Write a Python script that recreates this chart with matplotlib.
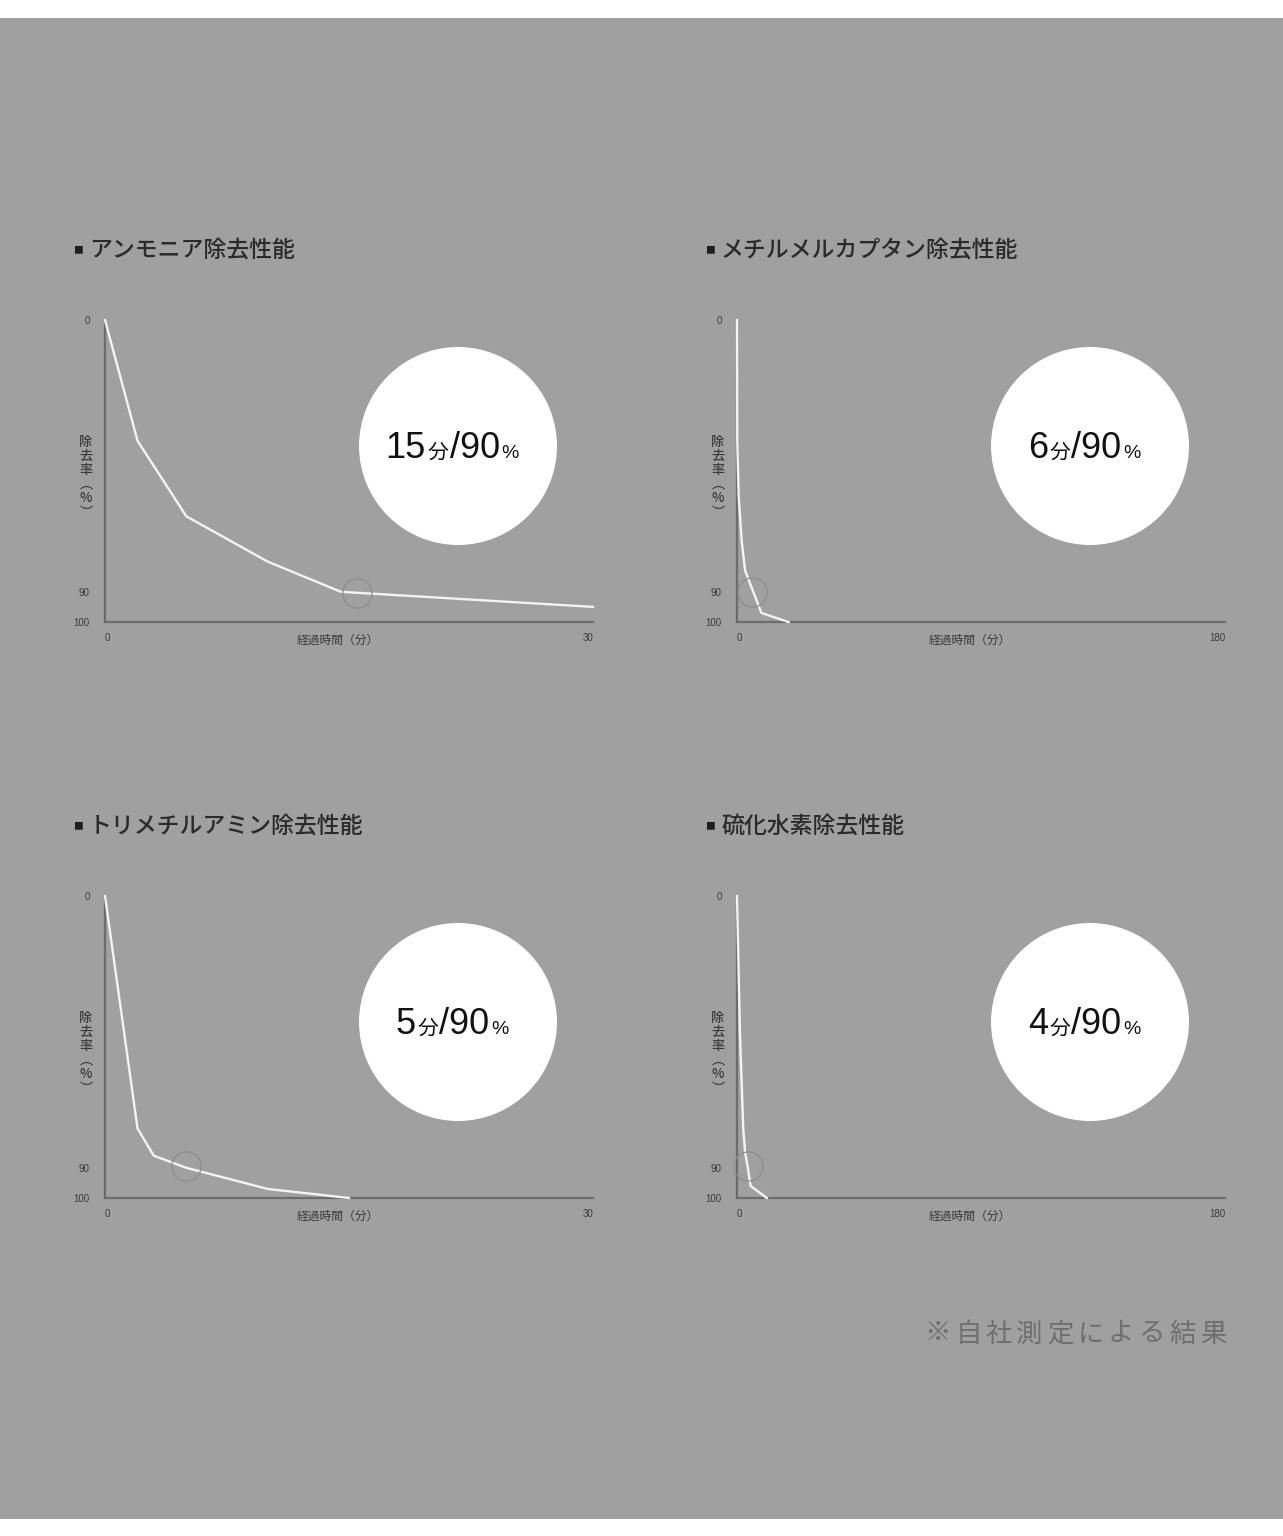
import matplotlib
matplotlib.use("Agg")
import matplotlib.pyplot as plt
from matplotlib.patches import Rectangle, Ellipse
from matplotlib.offsetbox import TextArea, HPacker, AnnotationBbox

plt.rcParams['font.family'] = ['Noto Sans CJK JP', 'DejaVu Sans']

W, H = 1283, 1536
BG = "#a0a0a0"
JP = ['Noto Sans CJK JP', 'DejaVu Sans']
LAT = ['Liberation Sans', 'DejaVu Sans']

# chart data: elapsed minutes vs removal rate (%)
titles = ["アンモニア除去性能", "メチルメルカプタン除去性能", "トリメチルアミン除去性能", "硫化水素除去性能"]
x_max = [30, 180, 30, 180]
ammonia_t = [0, 2, 5, 10, 14.5, 30]
ammonia_r = [0, 40, 65, 80, 90, 95]
methyl_t = [0, 0.1, 0.6, 1.7, 3, 6, 9, 19]
methyl_r = [0, 40, 58, 73, 83, 90, 97, 100]
tma_t = [0, 2, 3, 5, 10, 15]
tma_r = [0, 77, 86, 90, 97, 100]
h2s_t = [0, 1.1, 2.3, 3, 4, 5, 11]
h2s_r = [0, 46, 77, 85, 90, 96, 100]
series_t = [ammonia_t, methyl_t, tma_t, h2s_t]
series_r = [ammonia_r, methyl_r, tma_r, h2s_r]
mark_t = [15.5, 5.6, 5, 4]      # where the 90% ring sits
mark_r = [90.5, 90, 89.5, 89.5]
badge_min = ["15", "6", "5", "4"]
badge_pct = "90"
y_ticks = [0, 90, 100]


def fx(px):
    return px / W


def fy(py):
    return 1 - py / H


fig = plt.figure(figsize=(W / 100, H / 100), dpi=100, facecolor="white")
fig.patches.append(Rectangle((0, fy(1519)), 1, fy(18) - fy(1519), transform=fig.transFigure,
                             facecolor=BG, edgecolor="none", zorder=-2))

# pixel anchors of the four panels (axes left, axes top)
panel_left = [105, 737, 105, 737]
panel_top = [320, 320, 896, 896]
title_y = [248, 248, 824, 824]

for i in range(4):
    left, top = panel_left[i], panel_top[i]
    ax = fig.add_axes([fx(left), fy(top + 302), 488 / W, 302 / H])
    ax.set_facecolor("none")
    ax.plot(series_t[i], series_r[i], color="#f4f4f4", lw=1.7, clip_on=False, zorder=3)
    ax.plot([mark_t[i]], [mark_r[i]], marker="o", ms=21, mfc="none", mec="#8c8c8c", mew=0.9,
            clip_on=False, zorder=4)
    ax.set_xlim(0, x_max[i])
    ax.set_ylim(100, 0)
    for s in ["top", "right"]:
        ax.spines[s].set_visible(False)
    for s in ["left", "bottom"]:
        ax.spines[s].set_color("#6c6c6c")
        ax.spines[s].set_linewidth(1.6)
    ax.set_yticks(y_ticks)
    ax.set_yticklabels([str(v) for v in y_ticks], family=LAT, fontsize=7, color="#3a3a3a")
    ax.set_xticks([0, x_max[i]])
    xl = ax.set_xticklabels(["0", str(x_max[i])], family=LAT, fontsize=7, color="#3a3a3a")
    xl[0].set_ha("left")
    xl[1].set_ha("right")
    ax.tick_params(length=0, pad=8)
    ax.tick_params(axis="y", pad=11)
    ax.set_xlabel("経過時間（分）", fontsize=8.5, color="#3a3a3a")
    ax.xaxis.set_label_coords(0.477, -0.04)
    ax.text(-19 / 488, 0.48, "除\n去\n率\n︵\n%\n︶", transform=ax.transAxes, ha="center",
            va="center", fontsize=9.5, weight="medium", color="#3a3a3a", linespacing=1.0)

    # title
    fig.text(fx(left - 32), fy(title_y[i] + 2), "■", fontsize=7, color="#1e1e1e", va="center")
    fig.text(fx(left - 16), fy(title_y[i] + 2), titles[i], fontsize=16.5, weight="medium",
             color="#2a2a2a", va="center")

    # badge
    cx, cy = left + 353, top + 126
    fig.patches.append(Ellipse((fx(cx), fy(cy)), 198 / W, 198 / H, transform=fig.transFigure,
                               facecolor="white", edgecolor="none", zorder=-1))
    parts = [TextArea(badge_min[i], textprops=dict(fontsize=26, family=LAT, color="#111111")),
             TextArea("分", textprops=dict(fontsize=15, family=JP, color="#111111")),
             TextArea("/" + badge_pct, textprops=dict(fontsize=26, family=LAT, color="#111111")),
             TextArea("%", textprops=dict(fontsize=14, family=LAT, color="#111111"))]
    box = HPacker(children=parts, align="baseline", pad=0, sep=1)
    fig.add_artist(AnnotationBbox(box, (fx(cx - 6), fy(cy + 3)), xycoords="figure fraction",
                                  box_alignment=(0.5, 0.5), frameon=False, zorder=5))

note = [TextArea(c, textprops=dict(fontsize=19, family=JP, color="#6e6e6e")) for c in "※自社測定による結果"]
fig.add_artist(AnnotationBbox(HPacker(children=note, align="baseline", pad=0, sep=3),
                              (fx(1226), fy(1334)), xycoords="figure fraction",
                              box_alignment=(1, 0.5), frameon=False))

fig.savefig("out.png", dpi=100, facecolor="white")
